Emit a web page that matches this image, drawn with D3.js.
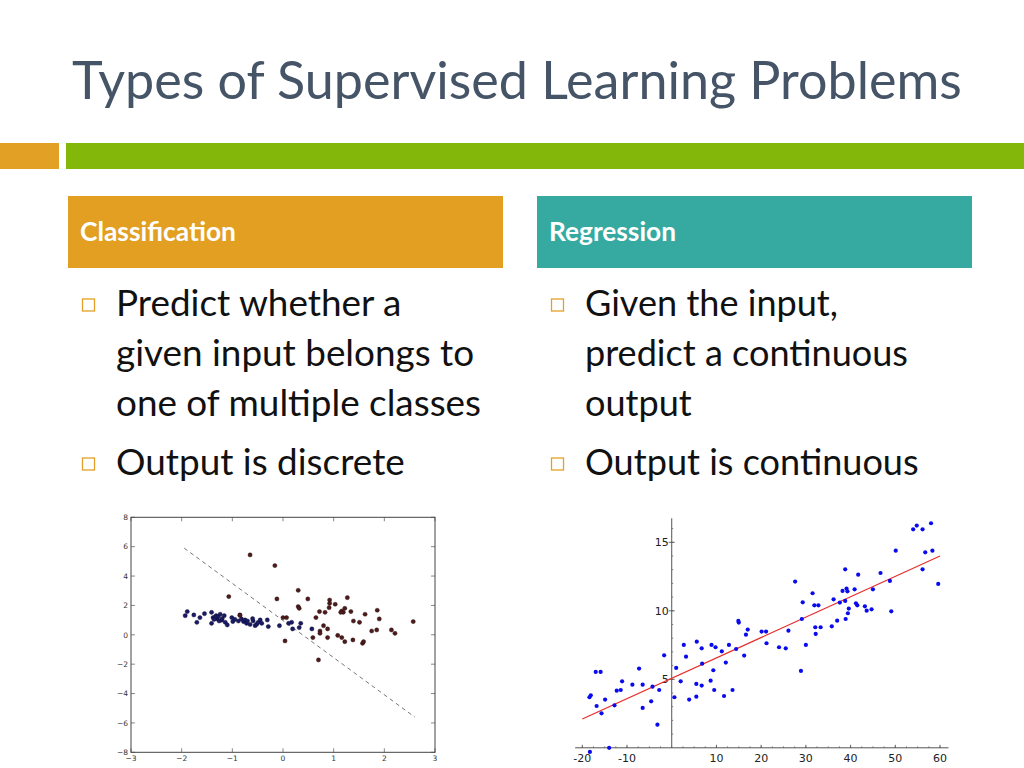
<!DOCTYPE html>
<html>
<head>
<meta charset="utf-8">
<script src="https://cdn.jsdelivr.net/npm/d3@7"></script>
<style>
html,body{margin:0;padding:0;background:#fff;}
svg{display:block;}
</style>
</head>
<body>
<svg id="slide" width="1024" height="768"></svg>
<script>
// ---------- DATA ----------
const titleText = "Types of Supervised Learning Problems";
const headers = ["Classification", "Regression"];
const leftBullets = [["Predict whether a", "given input belongs to", "one of multiple classes"], ["Output is discrete"]];
const rightBullets = [["Given the input,", "predict a continuous", "output"], ["Output is continuous"]];

// classification scatter (class A = blue, class B = red)
const classA = [
  [-1.93,1.30],[-1.89,1.58],[-1.76,1.35],[-1.70,0.85],[-1.64,1.17],[-1.55,1.44],[-1.41,1.53],
  [-1.41,0.78],[-1.38,1.17],[-1.32,1.30],[-1.30,1.08],[-1.28,1.24],[-1.26,0.94],[-1.24,1.40],
  [-1.21,0.99],[-1.16,1.30],[-1.14,0.85],[-1.10,0.67],[-1.01,1.17],[-0.99,0.90],[-0.88,0.94],
  [-0.85,1.35],[-0.82,1.08],[-0.78,0.90],[-0.75,1.01],[-0.72,0.78],[-0.70,0.94],[-0.59,0.94],
  [-0.55,0.62],[-0.52,0.71],[-0.49,0.85],[-0.45,1.01],[-0.42,0.78],[-0.31,1.01],[-0.29,0.56],
  [-0.07,0.62],[0.11,0.78],[0.17,0.85],[0.19,0.40],[0.32,0.49],[0.35,0.78],[0.57,0.40],
  [-1.34,1.20],[-1.36,1.05],[-1.20,1.10],[-0.95,1.05],[-0.65,0.70],[-0.60,1.10]
];
const classB = [
  [-0.65,5.44],[-0.16,4.71],[-1.07,2.60],[-0.12,2.44],[0.30,3.03],[0.49,2.44],[0.30,1.92],
  [0.32,1.80],[0.07,1.17],[0.00,1.17],[0.04,-0.42],[0.70,-1.71],[0.59,-0.19],[0.72,1.58],[0.65,1.17],
  [0.83,1.53],[0.80,0.62],[0.88,0.40],[0.88,-0.19],[0.73,0.26],[0.73,0.10],[0.92,2.37],
  [0.92,2.14],[0.91,1.85],[1.03,2.08],[1.08,-0.04],[1.16,-0.19],[1.22,-0.47],[1.16,1.62],
  [1.19,1.53],[1.14,1.53],[1.22,1.80],[1.27,2.53],[1.34,1.58],[1.39,0.94],[1.38,-0.35],
  [1.51,0.85],[1.57,-0.58],[1.59,-0.47],[1.62,1.40],[1.75,0.26],[1.85,0.33],[1.86,1.67],
  [1.90,1.08],[2.14,0.33],[2.21,0.10],[2.57,0.90],[-0.85,1.32]
];
const boundary = [[-1.95,5.9],[2.6,-5.6]];
const leftXTicks = [-3,-2,-1,0,1,2,3];
const leftYTicks = [-8,-6,-4,-2,0,2,4,6,8];

// regression scatter
const regPoints = [
  [-18.4,3.69],[-18.1,3.83],[-17.0,5.54],[-16.8,3.05],[-15.9,5.54],[-15.7,2.52],[-14.9,3.52],
  [-14.0,0.0],[-12.8,3.10],[-12.3,4.17],[-11.4,4.22],[-11.1,4.85],[-8.8,4.61],[-7.3,5.78],
  [-6.5,2.91],[-6.5,4.61],[-4.6,3.39],[-4.3,4.46],[-3.2,1.69],[-2.8,4.22],[-1.7,6.75],
  [-18.3,-0.3],[0.6,3.69],[1.0,5.83],[2.0,4.85],[2.7,7.51],[3.2,6.65],[3.9,3.52],[5.5,3.73],
  [5.5,4.66],[5.6,7.75],[6.7,7.26],[6.7,4.54],[6.8,6.14],[8.7,4.90],[8.9,7.51],[9.3,5.66],
  [9.5,4.22],[9.8,7.34],[11.2,7.04],[11.7,3.78],[12.1,6.22],[12.8,7.51],[13.6,4.22],[14.4,7.21],
  [14.9,9.26],[15.0,9.14],[16.2,6.73],[16.6,8.26],[17.0,8.63],[20.1,8.48],[21.1,8.48],[21.2,7.63],
  [24.0,7.34],[25.5,7.26],[26.1,8.55],[27.6,12.13],[28.9,5.61],[29.1,9.40],[29.3,10.62],[30.0,7.51],
  [31.5,11.28],[31.9,10.40],[32.1,8.80],[32.2,8.31],[32.8,10.40],[33.3,8.80],[35.8,8.87],[36.2,10.84],
  [37.0,9.28],[37.6,10.60],[38.2,11.45],[38.8,10.72],[38.8,13.03],[38.9,9.40],[39.1,11.62],[39.3,11.42],
  [39.4,9.82],[39.6,10.16],[40.9,11.57],[41.2,10.55],[41.5,10.40],[41.7,12.64],[43.2,10.33],[43.6,10.01],
  [44.7,10.11],[45.0,11.57],[46.7,12.76],[48.8,12.18],[49.1,9.96],[50.1,14.39],[54.0,15.95],[54.8,16.22],
  [56.1,15.95],[56.1,13.03],[56.7,14.27],[58.0,16.39],[58.3,14.39],[59.6,11.96]
];
const fitLine = [[-20,2.1],[60,14.0]];
const rightXTicks = [-20,-10,10,20,30,40,50,60];
const rightYTicks = [5,10,15];

// ---------- DRAW ----------
const svg = d3.select("#slide");
svg.append("rect").attr("width",1024).attr("height",768).attr("fill","#fff");

const BODY_FONT = "'Lato', 'Open Sans', sans-serif";

function fitText(sel, targetWidth){
  const w = sel.node().getComputedTextLength();
  const fs = parseFloat(sel.attr("font-size"));
  sel.attr("font-size", (fs*targetWidth/w).toFixed(2));
}

// Title
const title = svg.append("text").attr("x",72).attr("y",99)
  .attr("font-family",BODY_FONT).attr("font-size",46).attr("fill","#465467")
  .text(titleText);
fitText(title, 890);

// Bars
svg.append("rect").attr("x",0).attr("y",143).attr("width",59).attr("height",26).attr("fill","#e2a024");
svg.append("rect").attr("x",66).attr("y",143).attr("width",958).attr("height",26).attr("fill","#83b70a");

// Header boxes
const headerBoxes = [{x:68,fill:"#e29f22",tx:80,tw:156},{x:537,fill:"#36aaa0",tx:549,tw:127}];
headerBoxes.forEach((h,i)=>{
  svg.append("rect").attr("x",h.x).attr("y",196).attr("width",435).attr("height",72).attr("fill",h.fill);
  const t = svg.append("text").attr("x",h.tx).attr("y",241)
    .attr("font-family",BODY_FONT).attr("font-weight","bold").attr("font-size",20)
    .attr("fill","#fff").text(headers[i]);
  fitText(t, h.tw);
});

// Bullets
function drawBullets(groups, bx, tx, baselines, refWidth, refIndex){
  const lines = [];
  let k = 0;
  groups.forEach((g,gi)=>{
    svg.append("rect").attr("x",bx).attr("y",baselines[k]-17).attr("width",12).attr("height",12)
      .attr("fill","none").attr("stroke","#e2a024").attr("stroke-width",1.3);
    g.forEach(line=>{
      lines.push(svg.append("text").attr("x",tx).attr("y",baselines[k])
        .attr("font-family",BODY_FONT).attr("font-size",30).attr("fill","#111").text(line));
      k++;
    });
  });
  const w = lines[refIndex].node().getComputedTextLength();
  const fs = 30*refWidth/w;
  lines.forEach(l=>l.attr("font-size",fs.toFixed(2)));
}
drawBullets(leftBullets, 82.5, 116, [316,366,416,475], 365, 2);
drawBullets(rightBullets, 551.5, 585, [316,366,416,475], 323, 1);

// ---------- Left chart (classification) ----------
const lx = d3.scaleLinear().domain([-3,3]).range([131,435]);
const ly = d3.scaleLinear().domain([-8,8]).range([752.3,517.3]);
const L = svg.append("g");
const fmtMinus = d => d<0 ? "\u2212"+Math.abs(d) : String(d);

// ticks (inward on all sides)
leftXTicks.forEach(t=>{
  L.append("line").attr("x1",lx(t)).attr("x2",lx(t)).attr("y1",ly(-8)).attr("y2",ly(-8)-4).attr("stroke","#555").attr("stroke-width",0.7);
  L.append("line").attr("x1",lx(t)).attr("x2",lx(t)).attr("y1",ly(8)).attr("y2",ly(8)+4).attr("stroke","#555").attr("stroke-width",0.7);
  L.append("text").attr("x",lx(t)).attr("y",ly(-8)+9).attr("text-anchor","middle")
    .attr("font-family","DejaVu Sans").attr("font-size",7.5).attr("fill","#333").text(fmtMinus(t));
});
leftYTicks.forEach(t=>{
  L.append("line").attr("x1",lx(-3)).attr("x2",lx(-3)+4).attr("y1",ly(t)).attr("y2",ly(t)).attr("stroke","#555").attr("stroke-width",0.7);
  L.append("line").attr("x1",lx(3)).attr("x2",lx(3)-4).attr("y1",ly(t)).attr("y2",ly(t)).attr("stroke","#555").attr("stroke-width",0.7);
  L.append("text").attr("x",lx(-3)-3).attr("y",ly(t)+2.7).attr("text-anchor","end")
    .attr("font-family","DejaVu Sans").attr("font-size",7.5).attr("fill","#333").text(fmtMinus(t));
});
L.append("rect").attr("x",lx(-3)).attr("y",ly(8)).attr("width",lx(3)-lx(-3)).attr("height",ly(-8)-ly(8))
  .attr("fill","none").attr("stroke","#444").attr("stroke-width",1);

L.append("line").attr("x1",lx(boundary[0][0])).attr("y1",ly(boundary[0][1]))
  .attr("x2",lx(boundary[1][0])).attr("y2",ly(boundary[1][1]))
  .attr("stroke","#666").attr("stroke-width",0.9).attr("stroke-dasharray","4,3.5");

L.selectAll(".a").data(classA).enter().append("circle")
  .attr("cx",d=>lx(d[0])).attr("cy",d=>ly(d[1])).attr("r",2.1)
  .attr("fill","#1b1b66").attr("stroke","#0b0b2a").attr("stroke-width",0.4);
L.selectAll(".b").data(classB).enter().append("circle")
  .attr("cx",d=>lx(d[0])).attr("cy",d=>ly(d[1])).attr("r",2.1)
  .attr("fill","#4e1a1a").attr("stroke","#241010").attr("stroke-width",0.4);

// ---------- Right chart (regression) ----------
const rx = d3.scaleLinear().domain([-20,60]).range([582.3,940]);
const ry = d3.scaleLinear().domain([0,15]).range([747.8,542.3]);
const R = svg.append("g");
const axisCol = "#555";
// axes lines
R.append("line").attr("x1",rx(-21.6)).attr("x2",rx(61.9)).attr("y1",ry(0)).attr("y2",ry(0)).attr("stroke",axisCol).attr("stroke-width",1);
R.append("line").attr("x1",rx(0)).attr("x2",rx(0)).attr("y1",ry(0)).attr("y2",ry(16.75)).attr("stroke",axisCol).attr("stroke-width",1);
// minor ticks
d3.range(-20,61,2.5).forEach(t=>{
  R.append("line").attr("x1",rx(t)).attr("x2",rx(t)).attr("y1",ry(0)-1.5).attr("y2",ry(0)).attr("stroke",axisCol).attr("stroke-width",0.7);
});
d3.range(1,17,1).forEach(t=>{
  R.append("line").attr("x1",rx(0)).attr("x2",rx(0)+1.5).attr("y1",ry(t)).attr("y2",ry(t)).attr("stroke",axisCol).attr("stroke-width",0.7);
});
// major ticks + labels
rightXTicks.forEach(t=>{
  R.append("line").attr("x1",rx(t)).attr("x2",rx(t)).attr("y1",ry(0)-3).attr("y2",ry(0)).attr("stroke",axisCol).attr("stroke-width",0.9);
  R.append("text").attr("x",rx(t)).attr("y",ry(0)+14).attr("text-anchor","middle")
    .attr("font-family","DejaVu Sans").attr("font-size",11).attr("fill","#222").text(t);
});
rightYTicks.forEach(t=>{
  R.append("line").attr("x1",rx(0)-3).attr("x2",rx(0)+3).attr("y1",ry(t)).attr("y2",ry(t)).attr("stroke",axisCol).attr("stroke-width",0.9);
  R.append("text").attr("x",rx(0)-3).attr("y",ry(t)+4).attr("text-anchor","end")
    .attr("font-family","DejaVu Sans").attr("font-size",11).attr("fill","#222").text(t);
});
R.append("line").attr("x1",rx(fitLine[0][0])).attr("y1",ry(fitLine[0][1]))
  .attr("x2",rx(fitLine[1][0])).attr("y2",ry(fitLine[1][1]))
  .attr("stroke","#e8312f").attr("stroke-width",1.3);
R.selectAll(".p").data(regPoints).enter().append("circle")
  .attr("cx",d=>rx(d[0])).attr("cy",d=>ry(d[1])).attr("r",2.1).attr("fill","#0a0aee");
</script>
</body>
</html>
